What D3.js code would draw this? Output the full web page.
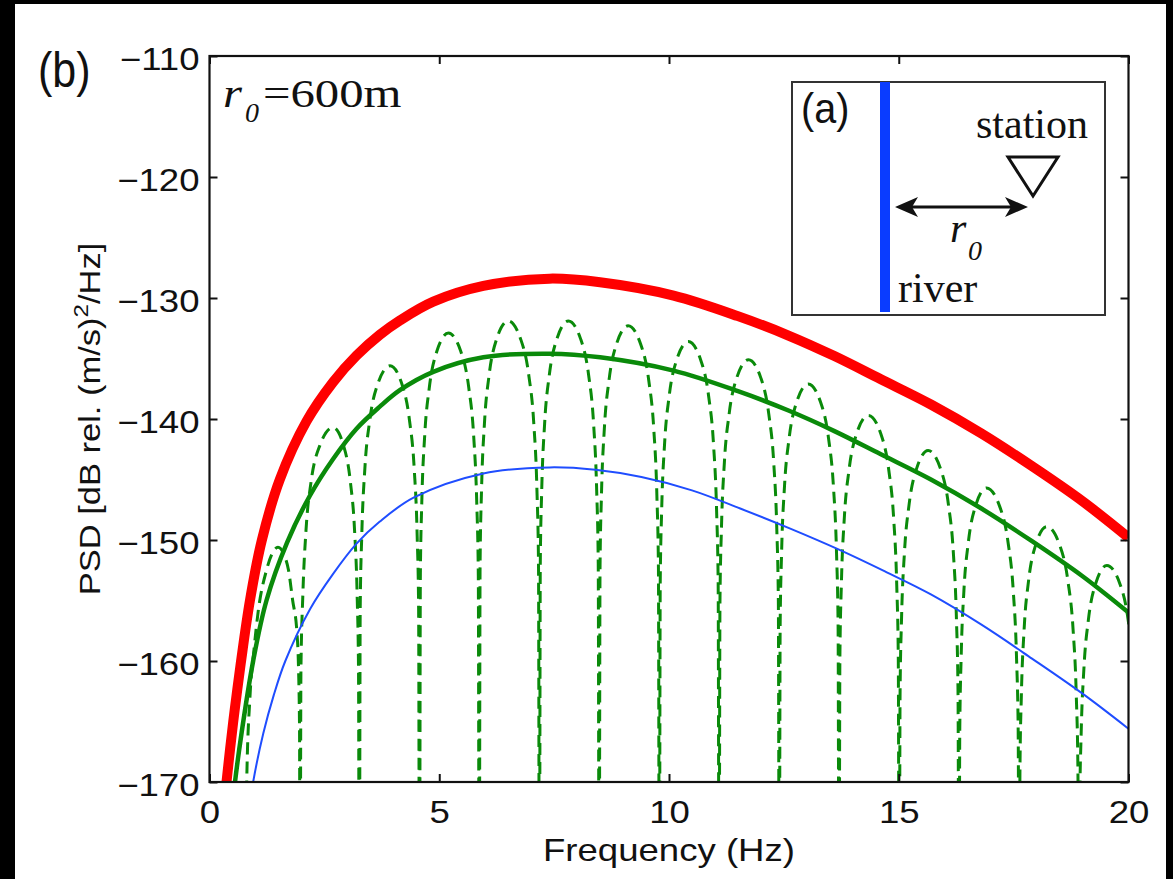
<!DOCTYPE html>
<html><head><meta charset="utf-8">
<script src="https://cdn.jsdelivr.net/npm/d3@7"></script>
<style>html,body{margin:0;padding:0;background:#000;overflow:hidden}svg{display:block}</style>
</head><body><svg id="c" width="1173" height="879"></svg>
<script>
// ---------- data ----------
const xTicks = [0, 5, 10, 15, 20];
const yTicks = [-110, -120, -130, -140, -150, -160, -170];

const redFreq = [0.33,0.37,0.45,0.52,0.59,0.68,0.88,1.14,1.53,2.11,2.69,3.2,3.7,4.15,4.87,5.96,7.4,8.5,10.1,11.5,12.6,13.6,14.6,15.7,16.8,17.9,19.0,20.0];
const redPsd  = [-171.5,-170,-167.2,-164.9,-162.8,-160.2,-155,-150,-145,-140.2,-136.95,-134.76,-133.06,-131.84,-130.3,-129.0,-128.4,-128.7,-129.8,-131.5,-133.1,-134.8,-136.7,-138.8,-141.2,-143.9,-146.8,-149.8];

const greenFreq = [0.50,0.555,0.70,0.95,1.24,1.69,2.19,2.69,3.2,3.7,4.15,4.87,5.96,7.4,8.5,10.1,11.5,12.6,13.6,14.6,15.7,16.8,17.9,19.0,20.0];
const greenPsd  = [-172,-170,-165.9,-160,-155,-150.2,-146.3,-143.3,-140.8,-139.0,-137.6,-136.1,-134.9,-134.6,-134.9,-136.0,-137.7,-139.3,-141.0,-142.9,-145.0,-147.4,-150.1,-153.0,-156.0];

const blueFreq = [0.9,0.95,1.17,1.40,1.65,2.19,2.69,3.2,3.7,4.44,5.96,7.4,8.4,9.4,10.5,11.55,12.6,13.7,14.7,15.7,16.8,17.9,19.0,20.0];
const bluePsd  = [-171.3,-170,-166,-162.8,-160,-155.7,-152.8,-150.3,-148.5,-146.5,-144.5,-144.0,-144.2,-144.8,-145.9,-147.4,-149.0,-150.8,-152.6,-154.5,-157.0,-159.8,-162.7,-165.6];

const dashedFreq = [
 0.78,0.81,0.88,0.97,1.06,1.24,1.38,1.49,1.62,1.72,1.81,1.90,1.94,1.96,
 1.97,1.99,2.03,2.10,2.21,2.40,2.69,2.918,3.066,3.157,3.214,3.243,
 3.26,3.28,3.314,3.381,3.488,3.662,3.93,4.186,4.352,4.455,4.519,4.551,
 4.57,4.589,4.62,4.683,4.784,4.948,5.20,5.468,5.642,5.749,5.816,5.85,
 5.87,5.889,5.92,5.983,6.084,6.248,6.50,6.772,6.949,7.058,7.126,7.16,
 7.18,7.199,7.23,7.293,7.394,7.558,7.81,8.078,8.252,8.359,8.426,8.46,
 8.48,8.499,8.53,8.593,8.694,8.858,9.11,9.382,9.559,9.668,9.736,9.77,
 9.79,9.809,9.84,9.903,10.004,10.168,10.42,10.688,10.862,10.969,11.036,11.07,
 11.09,11.109,11.141,11.205,11.308,11.474,11.73,11.998,12.172,12.279,12.346,12.38,
 12.40,12.419,12.45,12.513,12.614,12.778,13.03,13.298,13.472,13.579,13.646,13.68,
 13.70,13.719,13.751,13.815,13.918,14.084,14.34,14.608,14.782,14.889,14.956,14.99,
 15.01,15.029,15.06,15.123,15.224,15.388,15.64,15.908,16.082,16.189,16.256,16.29,
 16.31,16.328,16.358,16.418,16.514,16.67,16.91,17.194,17.379,17.492,17.563,17.599,
 17.62,17.638,17.668,17.728,17.824,17.98,18.22,18.50,18.682,18.794,18.864,18.899,
 18.92,18.938,18.969,19.03,19.127,19.286,19.53,19.81,19.992,20.104,20.17,20.23];
const dashedPsd = [
 -185,-170,-163,-159,-155.9,-152.5,-151,-150.6,-151.2,-152.5,-155,-157.5,-161,-166,
 -185,-160.7,-154.7,-149.2,-145.2,-142.2,-140.7,-142.2,-145.2,-149.2,-154.7,-160.7,
 -185,-155.6,-149.6,-144.1,-140.1,-137.1,-135.6,-137.1,-140.1,-144.1,-149.6,-155.6,
 -185,-152.9,-146.9,-141.4,-137.4,-134.4,-132.9,-134.4,-137.4,-141.4,-146.9,-152.9,
 -185,-151.9,-145.9,-140.4,-136.4,-133.4,-131.9,-133.4,-136.4,-140.4,-145.9,-151.9,
 -185,-151.9,-145.9,-140.4,-136.4,-133.4,-131.9,-133.4,-136.4,-140.4,-145.9,-151.9,
 -185,-152.3,-146.3,-140.8,-136.8,-133.8,-132.3,-133.8,-136.8,-140.8,-146.3,-152.3,
 -185,-153.6,-147.6,-142.1,-138.1,-135.1,-133.6,-135.1,-138.1,-142.1,-147.6,-153.6,
 -185,-155.1,-149.1,-143.6,-139.6,-136.6,-135.1,-136.6,-139.6,-143.6,-149.1,-155.1,
 -185,-157.1,-151.1,-145.6,-141.6,-138.6,-137.1,-138.6,-141.6,-145.6,-151.1,-157.1,
 -185,-159.7,-153.7,-148.2,-144.2,-141.2,-139.7,-141.2,-144.2,-148.2,-153.7,-159.7,
 -185,-162.6,-156.6,-151.1,-147.1,-144.1,-142.6,-144.1,-147.1,-151.1,-156.6,-162.6,
 -185,-165.7,-159.7,-154.2,-150.2,-147.2,-145.7,-147.2,-150.2,-154.2,-159.7,-165.7,
 -185,-168.9,-162.9,-157.4,-153.4,-150.4,-148.9,-150.4,-153.4,-157.4,-162.9,-168.9,
 -185,-172.1,-166.1,-160.6,-156.6,-153.6,-152.1,-153.6,-156.6,-160.6,-166.1,-185];

// ---------- drawing ----------
const svg = d3.select("#c");
svg.append("rect").attr("x",15).attr("y",4).attr("width",1151).attr("height",875).attr("fill","#fff");

const L=209.5, R=1128.5, T=56, B=782;
const x = d3.scaleLinear().domain([0,20]).range([L,R]);
const y = d3.scaleLinear().domain([-170,-110]).range([B,T]);
const TF = "'Liberation Sans', Arial, Helvetica, sans-serif";
const SF = "'Liberation Serif', 'Times New Roman', serif";

svg.append("clipPath").attr("id","clip").append("rect")
  .attr("x",L).attr("y",T).attr("width",R-L).attr("height",B-T);

const zip = (f,p) => f.map((v,i)=>[v,p[i]]);
const smooth = d3.line().x(d=>x(d[0])).y(d=>y(d[1])).curve(d3.curveCatmullRom.alpha(0.5));
const mono = d3.line().x(d=>x(d[0])).y(d=>y(d[1])).curve(d3.curveMonotoneX);
const g = svg.append("g").attr("clip-path","url(#clip)");

g.append("path").attr("d",smooth(zip(redFreq,redPsd))).attr("fill","none")
  .attr("stroke","#ff0000").attr("stroke-width",10);
g.append("path").attr("d",mono(zip(dashedFreq,dashedPsd))).attr("fill","none")
  .attr("stroke","#0a8a0a").attr("stroke-width",3).attr("stroke-dasharray","12,7");
g.append("path").attr("d",smooth(zip(greenFreq,greenPsd))).attr("fill","none")
  .attr("stroke","#0a8a0a").attr("stroke-width",4.5);
g.append("path").attr("d",smooth(zip(blueFreq,bluePsd))).attr("fill","none")
  .attr("stroke","#1f4dff").attr("stroke-width",2);

// axes
const SX = 1.18;
const ax = svg.append("g").attr("font-family",TF);
const gl = ax.append("g").attr("transform",`translate(${L},0)`)
  .call(d3.axisLeft(y).tickValues(yTicks).tickSize(-8).tickFormat(d3.format("d")));
const gb = ax.append("g").attr("transform",`translate(0,${B})`)
  .call(d3.axisBottom(x).tickValues(xTicks).tickSize(-8).tickFormat(d3.format("d")));
const gt = ax.append("g").attr("transform",`translate(0,${T})`)
  .call(d3.axisTop(x).tickValues(xTicks).tickSize(-8).tickFormat(""));
const gr = ax.append("g").attr("transform",`translate(${R},0)`)
  .call(d3.axisRight(y).tickValues(yTicks).tickSize(-8).tickFormat(""));
[gl,gb,gt,gr].forEach(s=>{
  s.select(".domain").remove();
  s.selectAll(".tick line").attr("stroke","#111").attr("stroke-width",2);
});
gl.selectAll(".tick text").attr("font-size",31).attr("fill","#111")
  .attr("dy",0).attr("y",13.5).attr("x",-10/SX).attr("transform",`scale(${SX},1)`);
gb.selectAll(".tick text").attr("font-size",31).attr("fill","#111")
  .attr("dy",0).attr("y",41).attr("transform",`scale(${SX},1)`);

svg.append("rect").attr("x",L).attr("y",T).attr("width",R-L).attr("height",B-T)
  .attr("fill","none").attr("stroke","#111").attr("stroke-width",2.2);

// axis labels
svg.append("text").attr("transform",`translate(${(L+R)/2},861) scale(${SX},1)`)
  .attr("text-anchor","middle").attr("font-family",TF).attr("font-size",31).attr("fill","#111")
  .text("Frequency (Hz)");
const yl = svg.append("text").attr("transform",`translate(100,${(T+B)/2}) rotate(-90) scale(1.15,1)`)
  .attr("text-anchor","middle").attr("font-family",TF).attr("font-size",30).attr("fill","#111");
yl.append("tspan").text("PSD [dB rel. (m/s)");
yl.append("tspan").attr("font-size",21).attr("dy",-12).text("2");
yl.append("tspan").attr("dy",12).text("/Hz]");

// panel label (b)
svg.append("text").attr("transform","translate(38,87) scale(0.86,1)")
  .attr("font-family",TF).attr("font-size",50).attr("fill","#111").text("(b)");

// r0 = 600m
svg.append("text").attr("transform","translate(223,107) scale(1.25,1)")
  .attr("font-family",SF).attr("font-style","italic").attr("font-size",39).attr("fill","#111").text("r");
svg.append("text").attr("transform","translate(245,122)")
  .attr("font-family",SF).attr("font-style","italic").attr("font-size",28).attr("fill","#111").text("0");
svg.append("text").attr("transform","translate(263,107) scale(1.25,1)")
  .attr("font-family",SF).attr("font-size",39).attr("fill","#111").text("=600m");

// inset (a)
const ins = svg.append("g");
ins.append("rect").attr("x",792).attr("y",82).attr("width",313).attr("height",233)
  .attr("fill","#fff").attr("stroke","#333").attr("stroke-width",2);
ins.append("line").attr("x1",885).attr("x2",885).attr("y1",82).attr("y2",312)
  .attr("stroke","#0a3cff").attr("stroke-width",10);
ins.append("text").attr("transform","translate(801,123) scale(0.92,1)")
  .attr("font-family",TF).attr("font-size",43).attr("fill","#111").text("(a)");
ins.append("text").attr("x",976).attr("y",138)
  .attr("font-family",SF).attr("font-size",42).attr("fill","#111").text("station");
ins.append("polygon").attr("points","1008,157 1058,157 1033,196")
  .attr("fill","none").attr("stroke","#111").attr("stroke-width",3);
ins.append("line").attr("x1",905).attr("x2",1018).attr("y1",207).attr("y2",207)
  .attr("stroke","#111").attr("stroke-width",3);
ins.append("polygon").attr("points","895,207 918,197 912,207 918,217").attr("fill","#111");
ins.append("polygon").attr("points","1028,207 1005,197 1011,207 1005,217").attr("fill","#111");
ins.append("text").attr("x",950).attr("y",242)
  .attr("font-family",SF).attr("font-style","italic").attr("font-size",42).attr("fill","#111").text("r");
ins.append("text").attr("x",968).attr("y",260)
  .attr("font-family",SF).attr("font-style","italic").attr("font-size",28).attr("fill","#111").text("0");
ins.append("text").attr("x",898).attr("y",302)
  .attr("font-family",SF).attr("font-size",42).attr("fill","#111").text("river");
</script></body></html>
